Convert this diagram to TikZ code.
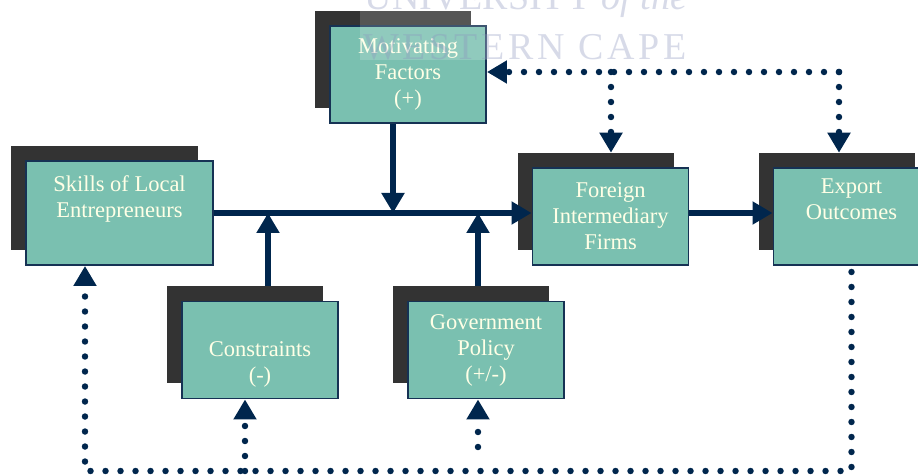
\documentclass[tikz,border=0pt]{standalone}
\usepackage{fontspec}
\setmainfont{Liberation Serif}
\usepackage{tikz}
\usetikzlibrary{arrows.meta}

\definecolor{boxteal}{RGB}{122,192,176}
\definecolor{boxline}{RGB}{22,50,84}
\definecolor{arrownavy}{RGB}{0,38,77}
\definecolor{backgray}{RGB}{51,51,51}
\definecolor{cream}{RGB}{255,255,230}
\definecolor{crest}{RGB}{140,150,190}

\begin{document}
\begin{tikzpicture}[
   box/.style={draw=boxline, line width=1.4pt, fill=boxteal, text=cream, align=center, inner sep=0pt,
      minimum width=3.9cm, minimum height=2.425cm, font=\fontsize{16}{18.5}\selectfont},
   backbox/.style={fill=backgray, inner sep=0pt, minimum width=3.9cm, minimum height=2.425cm},
   drive/.style={draw=arrownavy, line width=4.3pt, -{Triangle[width=0.55cm,length=0.5cm]}},
   feedback/.style={draw=arrownavy, line width=4.6pt, line cap=round, dash pattern=on 0pt off 0.375cm,
      -{Triangle[width=0.55cm,length=0.5cm]}}]
   \useasboundingbox (0,0) rectangle (22.95,-11.875);

  \draw (9.825,-1.4875) node[backbox] (Motivating-back) {};
  \draw (10.2,-1.8625) node[box] (Motivating) {Motivating\\Factors\\(+)\rule[-3pt]{0pt}{0pt}};
      \draw (2.6125,-4.95) node[backbox, minimum width=4.675cm, minimum height=2.6cm] (Skills-back) {};
      \draw (2.9875,-5.325) node[box, minimum width=4.675cm, minimum height=2.6cm] (Skills) {Skills of Local\\Entrepreneurs\\\strut};
  \draw (14.8875,-5.0375) node[backbox] (Foreign-back) {};
  \draw (15.2625,-5.4125) node[box] (Foreign) {Foreign\\Intermediary\\Firms};
  \draw (20.9125,-5.0375) node[backbox] (Export-back) {};
  \draw (21.2875,-5.4125) node[box] (Export) {Export\\Outcomes\\\strut};
	\draw (6.125,-8.375) node[backbox] (Constraints-back) {};
	\draw (6.5,-8.75) node[box] (Constraints) {\strut\\Constraints\\(-)};
	\draw (11.775,-8.375) node[backbox] (Government-back) {};
	\draw (12.15,-8.75) node[box] (Government) {Government\\Policy\\(+/-)};

  \coordinate (Motivating-in) at (9.825,-5.325);
  \coordinate (Constraints-in) at (6.7,-5.325);
  \coordinate (Government-in) at (11.95,-5.325);
  \coordinate (top-corner) at (20.975,-1.8);
  \coordinate (top-split) at (15.275,-1.8);
  \coordinate (bottom-right) at (21.2875,-11.775);
  \coordinate (bottom-left) at (2.125,-11.775);
  \coordinate (Government-foot) at (11.95,-11.175);

    \draw[drive] (Skills.east) -- (Skills.east -| Foreign.west);
    \draw[drive] (Foreign.east |- Skills.east) -- (Export.west |- Skills.east);
      \draw[drive] (Motivating-in |- Motivating.south) -- (Motivating-in);
      \draw[drive] (Constraints-in |- Constraints-back.north) -- (Constraints-in);
      \draw[drive] (Government-in |- Government-back.north) -- (Government-in);

    \draw[feedback] (top-corner) -- (Motivating.east |- top-corner);
    \draw[feedback] (top-corner) -- (top-corner |- Export-back.north);
    \draw[feedback] (top-split) -- (top-split |- Foreign-back.north);
    \draw[feedback] ([yshift=-0.15cm]Export.south) -- (bottom-right) -- (bottom-left) -- (bottom-left |- Skills.south);
    \draw[feedback] (Constraints-back |- bottom-left) -- (Constraints.south -| Constraints-back);
    \draw[feedback] (Government-foot) -- (Government-foot |- Government.south);

  \fill[white, opacity=.17] (9,0) rectangle (17.25,-1.5);
  \draw (13.15,-0.25) node[anchor=base, text=crest, text opacity=.35, font=\fontsize{27}{30}\selectfont] (crest-upper) {UNIVERSITY \textit{of the}};
  \draw (13.125,-1.5) node[anchor=base, text=crest, text opacity=.35, font=\fontsize{27}{30}\selectfont\addfontfeature{LetterSpace=10}] (crest-lower) {WESTERN CAPE};

\end{tikzpicture}
\end{document}
